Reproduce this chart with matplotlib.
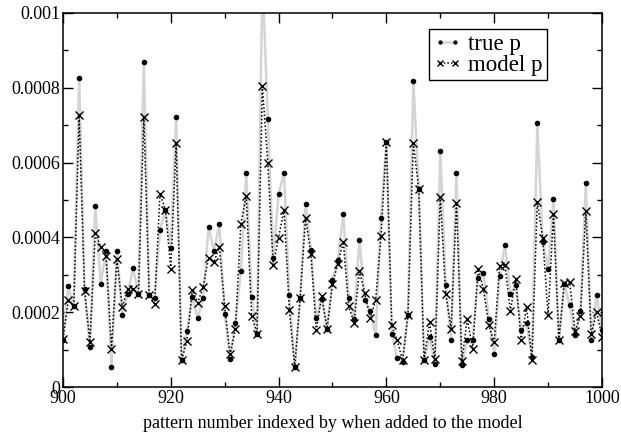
import matplotlib
matplotlib.use("Agg")
import matplotlib.pyplot as plt
from matplotlib.ticker import MultipleLocator, FuncFormatter
import numpy as np

pattern = list(range(900, 1001))

true_p = [0.125, 0.269, 0.216, 0.826, 0.263, 0.107, 0.483, 0.276, 0.364, 0.053,
          0.364, 0.192, 0.250, 0.318, 0.248, 0.868, 0.245, 0.239, 0.421, 0.474,
          0.372, 0.722, 0.071, 0.150, 0.241, 0.184, 0.238, 0.428, 0.363, 0.435,
          0.196, 0.076, 0.171, 0.310, 0.572, 0.241, 0.143, 1.100, 0.716, 0.345,
          0.515, 0.572, 0.245, 0.053, 0.238, 0.490, 0.365, 0.184, 0.236, 0.156,
          0.287, 0.340, 0.463, 0.239, 0.183, 0.394, 0.232, 0.202, 0.138, 0.453,
          0.655, 0.141, 0.078, 0.067, 0.193, 0.818, 0.530, 0.071, 0.135, 0.061,
          0.631, 0.274, 0.127, 0.573, 0.058, 0.127, 0.125, 0.291, 0.305, 0.183,
          0.089, 0.296, 0.381, 0.248, 0.272, 0.152, 0.171, 0.080, 0.706, 0.388,
          0.315, 0.502, 0.125, 0.275, 0.218, 0.140, 0.202, 0.545, 0.125, 0.247,
          0.152]

model_p = [0.129, 0.232, 0.216, 0.726, 0.258, 0.120, 0.413, 0.375, 0.349, 0.102,
           0.343, 0.214, 0.262, 0.262, 0.248, 0.722, 0.245, 0.223, 0.517, 0.474,
           0.316, 0.652, 0.071, 0.123, 0.260, 0.225, 0.267, 0.345, 0.334, 0.373,
           0.216, 0.087, 0.156, 0.437, 0.512, 0.189, 0.143, 0.804, 0.600, 0.327,
           0.399, 0.474, 0.207, 0.053, 0.238, 0.453, 0.356, 0.152, 0.243, 0.156,
           0.276, 0.330, 0.388, 0.216, 0.172, 0.310, 0.251, 0.184, 0.232, 0.403,
           0.655, 0.165, 0.125, 0.071, 0.193, 0.652, 0.530, 0.073, 0.174, 0.074,
           0.508, 0.250, 0.156, 0.492, 0.069, 0.183, 0.102, 0.315, 0.263, 0.165,
           0.120, 0.324, 0.327, 0.203, 0.290, 0.125, 0.214, 0.073, 0.495, 0.399,
           0.192, 0.463, 0.125, 0.278, 0.281, 0.149, 0.189, 0.470, 0.141, 0.201,
           0.134]

true_p = np.array(true_p) * 1e-3
model_p = np.array(model_p) * 1e-3

plt.rcParams['font.family'] = ['Liberation Serif', 'DejaVu Serif']
plt.rcParams['font.size'] = 13

fig = plt.figure(figsize=(6.21, 4.38), dpi=100)
ax = fig.add_axes([0.1014, 0.1164, 0.868, 0.854])

ax.plot(pattern, true_p, color='#d4d4d4', lw=1.8, marker='o', ms=3.0,
        mfc='black', mec='black', label='true p', zorder=2)
ax.plot(pattern, model_p, color='black', lw=1.1, ls=(0, (1, 1.4)), marker='x',
        ms=5.5, mew=1.0, mec='black', label='model p', zorder=3)

ax.set_xlim(900, 1000)
ax.set_ylim(0, 0.001)
ax.xaxis.set_major_locator(MultipleLocator(20))
ax.xaxis.set_minor_locator(MultipleLocator(10))
ax.yaxis.set_major_locator(MultipleLocator(0.0002))
ax.yaxis.set_minor_locator(MultipleLocator(0.0001))
ax.yaxis.set_major_formatter(FuncFormatter(lambda v, p: f'{v:g}'))

ax.tick_params(which='both', direction='in', top=True, right=True, width=1.0)
ax.tick_params(which='major', length=7, pad=2)
ax.tick_params(which='minor', length=3.6)
for s in ax.spines.values():
    s.set_linewidth(1.1)

ax.set_xlabel('pattern number indexed by when added to the model', labelpad=6)

leg = ax.legend(loc='upper right', bbox_to_anchor=(0.898, 0.957), borderaxespad=0,
                fancybox=False, framealpha=1, edgecolor='black', numpoints=2,
                handlelength=1.25, handletextpad=0.25, markerscale=0.7,
                borderpad=0.2, labelspacing=0.0, fontsize=16.5)
leg.get_frame().set_linewidth(1.0)

fig.savefig('out.png', dpi=100)
